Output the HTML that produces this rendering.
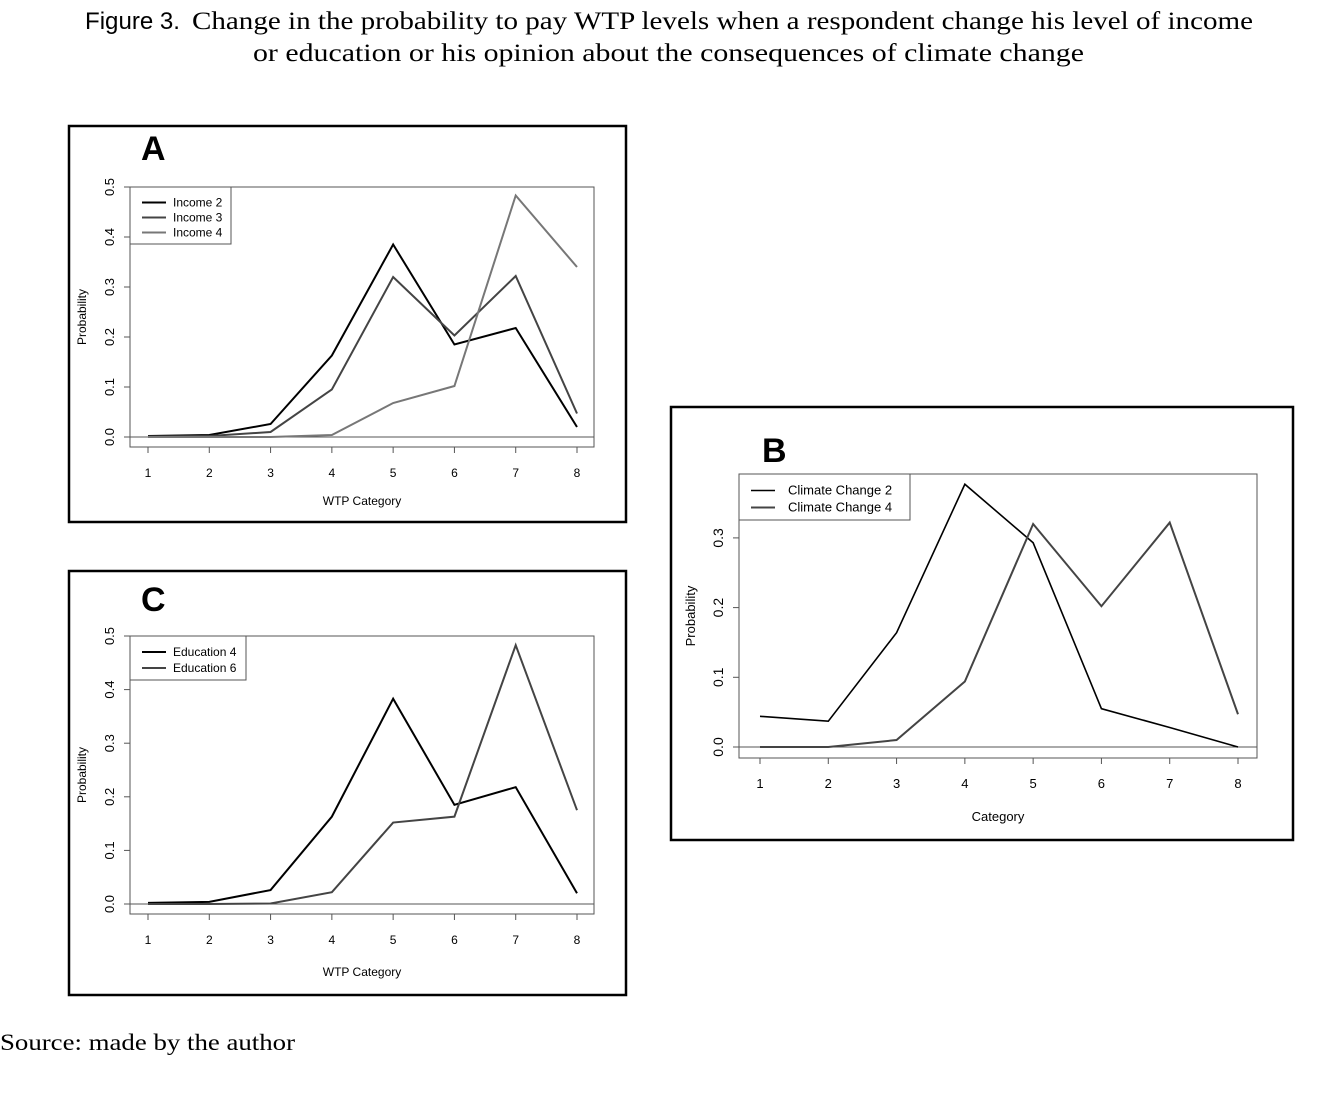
<!DOCTYPE html>
<html><head><meta charset="utf-8"><style>
body{margin:0;background:#fff;width:1339px;height:1105px;overflow:hidden}
svg{display:block}
.s{font-family:"Liberation Sans",sans-serif}
.r{font-family:"Liberation Serif",serif}
</style></head><body>
<svg id="c" width="1339" height="1105" xmlns="http://www.w3.org/2000/svg">
<text x="85" y="29" font-size="24" class="s" textLength="95" lengthAdjust="spacingAndGlyphs">Figure 3.</text>
<text x="192" y="29" font-size="25" class="r" textLength="1061" lengthAdjust="spacingAndGlyphs">Change in the probability to pay WTP levels when a respondent change his level of income</text>
<text x="253" y="61" font-size="25" class="r" textLength="831" lengthAdjust="spacingAndGlyphs">or education or his opinion about the consequences of climate change</text>
<text x="0" y="1050" font-size="23" class="r" textLength="295" lengthAdjust="spacingAndGlyphs">Source: made by the author</text>
</svg>
<script>
const cats=[1,2,3,4,5,6,7,8];
const income2=[0.002,0.004,0.026,0.163,0.385,0.185,0.218,0.02];
const income3=[0.001,0.002,0.01,0.095,0.32,0.203,0.322,0.047];
const income4=[0,0,0,0.004,0.068,0.102,0.483,0.34];
const edu4=[0.002,0.004,0.026,0.163,0.383,0.185,0.218,0.02];
const edu6=[0,0,0.001,0.022,0.152,0.163,0.483,0.175];
const cc2=[0.044,0.037,0.164,0.377,0.293,0.055,0.028,0];
const cc4=[0,0,0.01,0.094,0.32,0.202,0.322,0.047];
const ticksA=[0,0.1,0.2,0.3,0.4,0.5];
const ticksB=[0,0.1,0.2,0.3];
const NS="http://www.w3.org/2000/svg";
const svg=document.getElementById('c');
function mk(t,a,p){const e=document.createElementNS(NS,t);for(const k in a)e.setAttribute(k,a[k]);(p||svg).appendChild(e);return e;}
function panel(o){
 const g=mk('g',{});
 
 
 const fr=mk('rect',{x:o.fx,y:o.fy,width:o.fw,height:o.fh,fill:'none',stroke:'#000','stroke-width':2.5},g);
 
 
 const lb=mk('text',{x:o.lx,y:o.ly,'font-size':34,'font-weight':'bold',class:'s'},g);lb.textContent=o.letter;
 
 
 const bx=mk('rect',{x:o.bx,y:o.by,width:o.bw,height:o.bh,fill:'none',stroke:'#555','stroke-width':1},g);
 
 
 const X=c=>o.x1+(c-1)*(o.x8-o.x1)/7, Y=v=>o.y0-v*o.ppu;
 mk('line',{x1:o.bx,x2:o.bx+o.bw,y1:Y(0),y2:Y(0),stroke:'#555','stroke-width':1},g);
 cats.forEach(c=>{mk('line',{x1:X(c),x2:X(c),y1:o.by+o.bh,y2:o.by+o.bh+6,stroke:'#555'},g);
  const t=mk('text',{x:X(c),y:o.by+o.bh+30,'text-anchor':'middle','font-size':o.fs,class:'s'},g);t.textContent=c;
  
  });
 o.ticks.forEach(v=>{mk('line',{x1:o.bx,x2:o.bx-6,y1:Y(v),y2:Y(v),stroke:'#555'},g);
  const t=mk('text',{x:o.bx-16,y:Y(v),'text-anchor':'middle','font-size':o.fs+1,class:'s',transform:`rotate(-90 ${o.bx-16} ${Y(v)})`},g);t.textContent=v.toFixed(1);
  
  });
 const xt=mk('text',{x:o.bx+o.bw/2,y:o.by+o.bh+o.xto,'text-anchor':'middle','font-size':o.fs,class:'s'},g);xt.textContent=o.xlab;
 
 
 const yx=o.bx-44,yy=o.by+o.bh/2;
 const yt=mk('text',{x:yx,y:yy,'text-anchor':'middle','font-size':o.fs,class:'s',transform:`rotate(-90 ${yx} ${yy})`},g);yt.textContent='Probability';
 
 
 const lg=mk('rect',{x:o.bx,y:o.by,width:o.lw,height:o.series.length*o.lh+12,fill:'#fff',stroke:'#555'},g);
 
 
 o.series.forEach((s,i)=>{
  const p=mk('polyline',{points:s.d.map((v,j)=>X(cats[j])+','+Y(v)).join(' '),fill:'none',stroke:s.c,'stroke-width':s.w},g);
  
  
  const ly=o.by+7+o.lh*(i+0.5)+1;
  mk('line',{x1:o.bx+12,x2:o.bx+36,y1:ly,y2:ly,stroke:s.c,'stroke-width':s.w},g);
  const t=mk('text',{x:o.bx+o.ltx,y:ly+4,'font-size':o.lfs,class:'s'},g);t.textContent=s.n;
  
  
 });
}
panel({name:'panel-a',letter:'A',fx:69,fy:126,fw:557,fh:396,lx:141,ly:160,bx:130,by:187,bw:464,bh:260,x1:148,x8:577,y0:437,ppu:500,ticks:ticksA,fs:12,xto:58,xlab:'WTP Category',lw:101,lh:15,ltx:43,lfs:12,
 series:[{n:'Income 2',d:income2,c:'#000',w:2},{n:'Income 3',d:income3,c:'#444',w:2},{n:'Income 4',d:income4,c:'#777',w:2}]});
panel({name:'panel-c',letter:'C',fx:69,fy:571,fw:557,fh:424,lx:141,ly:611,bx:130,by:636,bw:464,bh:278,x1:148,x8:577,y0:904,ppu:536,ticks:ticksA,fs:12,xto:62,xlab:'WTP Category',lw:116,lh:16,ltx:43,lfs:12,
 series:[{n:'Education 4',d:edu4,c:'#000',w:2},{n:'Education 6',d:edu6,c:'#444',w:2}]});
panel({name:'panel-b',letter:'B',fx:671,fy:407,fw:622,fh:433,lx:762,ly:462,bx:739,by:474,bw:518,bh:284,x1:760,x8:1238,y0:747,ppu:697,ticks:ticksB,fs:13,xto:63,xlab:'Category',lw:171,lh:17,ltx:49,lfs:13,
 series:[{n:'Climate Change 2',d:cc2,c:'#000',w:1.6},{n:'Climate Change 4',d:cc4,c:'#444',w:2}]});
</script>
</body></html>
